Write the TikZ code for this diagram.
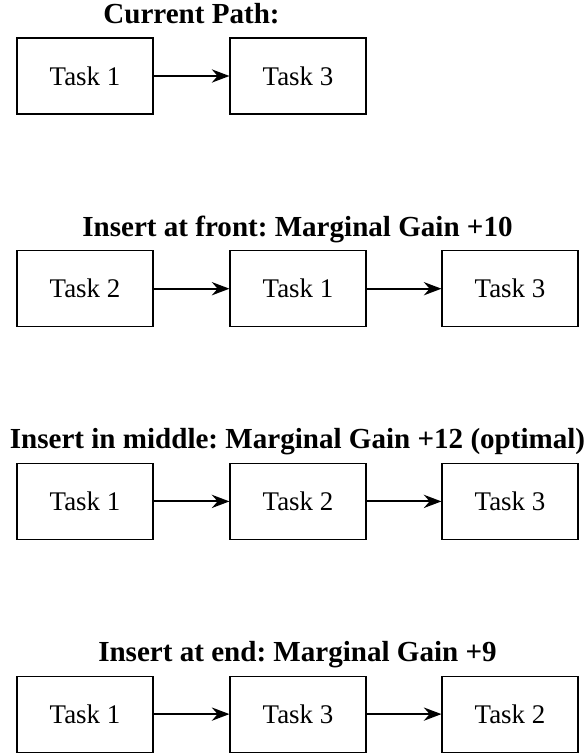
\documentclass[tikz,border=0pt]{standalone}
\usepackage{fontspec}
\setmainfont{Liberation Serif}
\frenchspacing
\usetikzlibrary{arrows.meta}

\tikzset{
  taskbox/.style={draw, line width=0.4pt, minimum width=51pt, minimum height=28.5pt,
                  inner sep=0pt, font=\rmfamily\fontsize{10.1}{12}\selectfont},
  heading/.style={anchor=base, inner sep=0pt, font=\rmfamily\fontsize{10.9}{13}\selectfont\bfseries},
  link/.style={-{Stealth}, line width=0.8pt}
}

\begin{document}
\begin{tikzpicture}[x=0.375pt, y=-0.375pt]
  \useasboundingbox (0,0) rectangle (586,753);

  % Current path
  \node[heading] (h0) at (191.5,23.3) {Current Path:};
  \node[taskbox] (a1) at (85,76) {Task 1};
  \node[taskbox] (a2) at (298,76) {Task 3};
  \draw[link] (a1) -- (a2);

  % Insert at front
  \node[heading] (h1) at (297.5,236) {Insert at front: Marginal Gain +10};
  \node[taskbox] (b1) at (85,288.7) {Task 2};
  \node[taskbox] (b2) at (298,288.7) {Task 1};
  \node[taskbox] (b3) at (510,288.7) {Task 3};
  \draw[link] (b1) -- (b2);
  \draw[link] (b2) -- (b3);

  % Insert in middle
  \node[heading] (h2) at (297.5,448.5) {Insert in middle: Marginal Gain +12 (optimal)};
  \node[taskbox] (c1) at (85,501.4) {Task 1};
  \node[taskbox] (c2) at (298,501.4) {Task 2};
  \node[taskbox] (c3) at (510,501.4) {Task 3};
  \draw[link] (c1) -- (c2);
  \draw[link] (c2) -- (c3);

  % Insert at end
  \node[heading] (h3) at (297.5,661.2) {Insert at end: Marginal Gain +9};
  \node[taskbox] (d1) at (85,714.1) {Task 1};
  \node[taskbox] (d2) at (298,714.1) {Task 3};
  \node[taskbox] (d3) at (510,714.1) {Task 2};
  \draw[link] (d1) -- (d2);
  \draw[link] (d2) -- (d3);
\end{tikzpicture}
\end{document}
